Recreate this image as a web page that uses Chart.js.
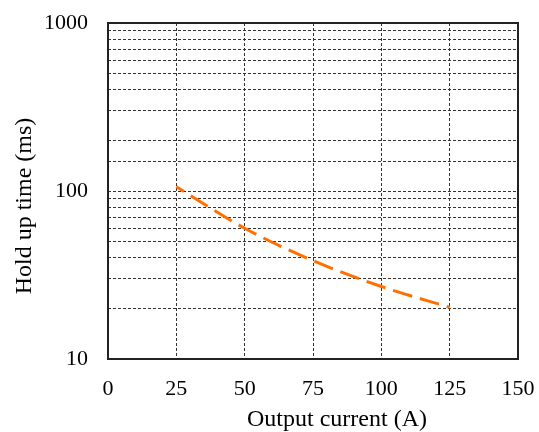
<!DOCTYPE html>
<html>
<head>
<meta charset="utf-8">
<script src="https://cdn.jsdelivr.net/npm/chart.js@4"></script>
<style>
  html, body { margin: 0; padding: 0; background: #fff; }
  #wrap { width: 539px; height: 432px; }
</style>
</head>
<body>
<div id="wrap"><canvas id="chart"></canvas></div>
<script>
// data
const currents = [25, 50, 75, 100, 125];       // A
const holdUp = [106, 60, 38.5, 27, 20.3];     // ms
const yLabelled = [10, 100, 1000];
const xTitle = 'Output current (A)';
const yTitle = 'Hold up time (ms)';

const FONT = '"Liberation Serif", "Times New Roman", serif';

// frame + axis titles
const framePlugin = {
    id: 'frame',
    afterDraw(chart) {
        const { ctx, chartArea: a } = chart;
        ctx.save();
        ctx.strokeStyle = '#222';
        ctx.lineWidth = 2;
        ctx.strokeRect(a.left, a.top, a.right - a.left, a.bottom - a.top);

        ctx.fillStyle = '#000';
        ctx.font = '24px ' + FONT;
        ctx.textAlign = 'center';
        ctx.textBaseline = 'middle';
        ctx.fillText(xTitle, 337, 420);

        ctx.translate(25, 206);
        ctx.rotate(-Math.PI / 2);
        ctx.fillText(yTitle, 0, 0);
        ctx.restore();
    }
};

// no extra room for overhanging tick labels, the layout padding handles it
function noPad(s) {
    s.paddingTop = 0;
    s.paddingBottom = 0;
    s.paddingLeft = 0;
    s.paddingRight = 0;
}

const ctx = document.getElementById('chart').getContext('2d');
new Chart(ctx, {
    type: 'line',
    data: {
        datasets: [{
            data: currents.map((x, i) => ({ x: x, y: holdUp[i] })),
            borderColor: '#FF7000',
            borderWidth: 3,
            borderDash: [20, 8],
            borderDashOffset: 11,
            pointRadius: 0,
            cubicInterpolationMode: 'monotone',
            fill: false
        }]
    },
    options: {
        responsive: true,
        maintainAspectRatio: false,
        animation: false,
        layout: { padding: { top: 23, right: 21, left: 0, bottom: 0 } },
        plugins: { legend: { display: false }, tooltip: { enabled: false } },
        scales: {
            x: {
                type: 'linear',
                min: 0,
                max: 150,
                ticks: {
                    stepSize: 25,
                    color: '#000',
                    padding: 17,
                    font: { family: FONT, size: 22 },
                    maxRotation: 0
                },
                grid: { color: '#333', lineWidth: 1, drawTicks: false },
                border: { display: false, dash: [3, 2] },
                afterFit(s) { s.height = 73; noPad(s); }
            },
            y: {
                type: 'logarithmic',
                min: 10,
                max: 1000,
                ticks: {
                    color: '#000',
                    padding: 20,
                    autoSkip: false,
                    font: { family: FONT, size: 22 },
                    callback: (v) => yLabelled.includes(v) ? String(v) : ''
                },
                grid: { color: '#333', lineWidth: 1, drawTicks: false },
                border: { display: false, dash: [3, 2] },
                afterFit(s) { s.width = 108; noPad(s); }
            }
        }
    },
    plugins: [framePlugin]
});
</script>
</body>
</html>
